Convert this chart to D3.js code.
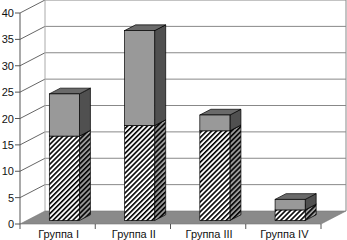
<!DOCTYPE html>
<html><head><meta charset="utf-8">
<script src="https://cdn.jsdelivr.net/npm/d3@7"></script>
<style>html,body{margin:0;padding:0;background:#fff;}svg{display:block;}</style>
</head><body>
<svg id="c" width="347" height="240"></svg>
<script>
const categories = ["Группа I", "Группа II", "Группа III", "Группа IV"];
const lowerValues = [16, 18, 17, 2];
const upperValues = [8, 18, 3, 2];
const yTicks = [0, 5, 10, 15, 20, 25, 30, 35, 40];

(function () {
const svg = d3.select("#c");
const pL = 20, pR = 321, pB = 224, pT = 13;
const DX = 25, DY = -13;          // depth vector
const fFront = 0.27, fDepth = 0.44;

const y = d3.scaleLinear().domain([0, 40]).range([pB, pT]);
const x = d3.scaleBand().domain(categories).range([pL, pR]).paddingInner(0.6).paddingOuter(0.3);

const defs = svg.append("defs");
function hatch(id, bg) {
  const p = defs.append("pattern").attr("id", id).attr("patternUnits", "userSpaceOnUse")
    .attr("width", 3.5).attr("height", 3.5).attr("patternTransform", "rotate(45)");
  p.append("rect").attr("width", 3.5).attr("height", 3.5).attr("fill", bg);
  p.append("rect").attr("width", 1.6).attr("height", 3.5).attr("fill", "#000");
}
hatch("hFront", "#fff");
hatch("hSide", "#9a9a9a");
hatch("hTop", "#bbb");

const g = svg.append("g");
g.append("rect").attr("x", pL + DX).attr("y", pT + DY).attr("width", pR - pL)
  .attr("height", pB - pT).attr("fill", "#fff");
yTicks.forEach(v => {
  if (v === 0) return;
  g.append("line").attr("x1", pL + DX).attr("x2", pR + DX).attr("y1", y(v) + DY).attr("y2", y(v) + DY)
    .attr("stroke", "#888").attr("stroke-width", 1);
  g.append("line").attr("x1", pL).attr("x2", pL + DX).attr("y1", y(v)).attr("y2", y(v) + DY)
    .attr("stroke", "#666").attr("stroke-width", 1);
});
g.append("line").attr("x1", pL + DX).attr("x2", pL + DX).attr("y1", y(40) + DY).attr("y2", y(0) + DY)
  .attr("stroke", "#aaa");
g.append("line").attr("x1", pR + DX).attr("x2", pR + DX).attr("y1", y(40) + DY).attr("y2", y(0) + DY)
  .attr("stroke", "#888");
g.append("polygon").attr("points", [[pL, pB], [pR, pB], [pR + DX, pB + DY], [pL + DX, pB + DY]].map(p => p.join(",")).join(" "))
  .attr("fill", "#8a8a8a").attr("stroke", "#777").attr("stroke-width", 0.6);

g.append("line").attr("x1", pL).attr("x2", pL).attr("y1", y(40)).attr("y2", y(0)).attr("stroke", "#555");
yTicks.forEach(v => {
  g.append("line").attr("x1", pL - 5).attr("x2", pL).attr("y1", y(v)).attr("y2", y(v)).attr("stroke", "#555");
  g.append("text").attr("x", pL - 6).attr("y", y(v) + 4).attr("text-anchor", "end")
    .attr("font-family", "Liberation Sans, Arial, sans-serif").attr("font-size", 11).attr("fill", "#111").text(v);
});
const step = x.step();
for (let i = 0; i <= categories.length; i++) {
  const xx = pL + i * step;
  g.append("line").attr("x1", xx).attr("x2", xx).attr("y1", pB).attr("y2", pB + 5).attr("stroke", "#555");
}
categories.forEach(c => {
  g.append("text").attr("x", x(c) + x.bandwidth() / 2 + 1).attr("y", 238).attr("text-anchor", "middle")
    .attr("font-family", "Liberation Sans, Arial, sans-serif").attr("font-size", 11).attr("fill", "#111").text(c);
});

const fx = DX * fFront, fy = DY * fFront, dx = DX * fDepth, dy = DY * fDepth;
function segment(c, v0, v1, fills) {
  const x0 = x(c) + fx, x1 = x(c) + x.bandwidth() + fx;
  const yt = y(v1) + fy, yb = y(v0) + fy;
  const pts = a => a.map(p => p.join(",")).join(" ");
  g.append("polygon").attr("points", pts([[x1, yt], [x1 + dx, yt + dy], [x1 + dx, yb + dy], [x1, yb]]))
    .attr("fill", fills.side).attr("stroke", "#000").attr("stroke-width", 0.7);
  g.append("polygon").attr("points", pts([[x0, yt], [x1, yt], [x1 + dx, yt + dy], [x0 + dx, yt + dy]]))
    .attr("fill", fills.top).attr("stroke", "#000").attr("stroke-width", 0.7);
  g.append("rect").attr("x", x0).attr("y", yt).attr("width", x1 - x0).attr("height", yb - yt)
    .attr("fill", fills.front).attr("stroke", "#000").attr("stroke-width", 0.7);
}
categories.forEach((c, i) => {
  segment(c, 0, lowerValues[i], { front: "url(#hFront)", side: "url(#hSide)", top: "url(#hTop)" });
  segment(c, lowerValues[i], lowerValues[i] + upperValues[i], { front: "#999", side: "#505050", top: "#6a6a6a" });
});
})();
</script>
</body></html>
